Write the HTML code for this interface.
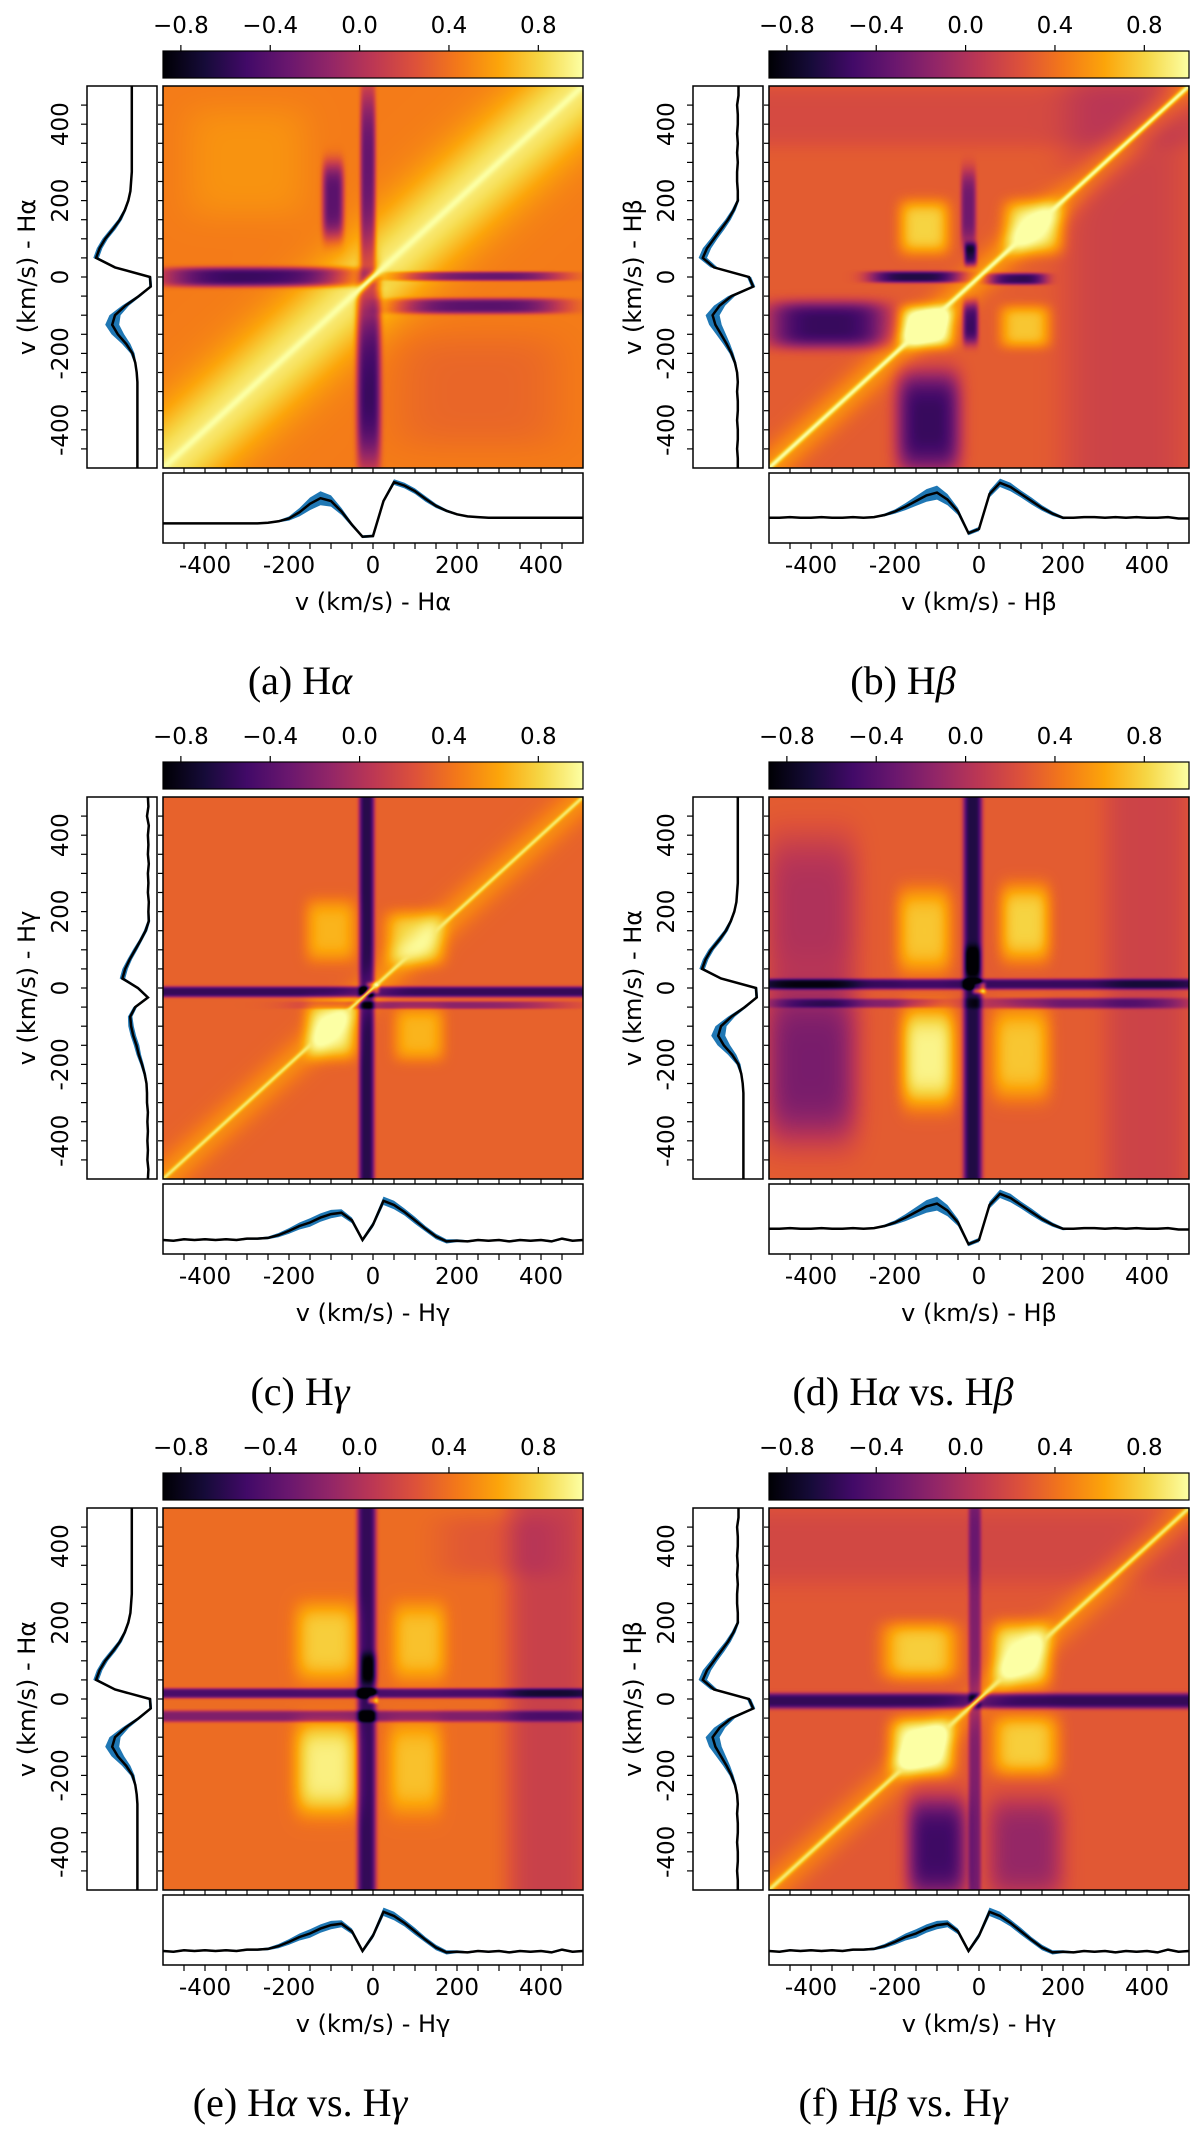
<!DOCTYPE html>
<html><head><meta charset="utf-8"><title>Correlation matrices</title>
<style>
html,body{margin:0;padding:0;background:#fff}
body{width:1200px;height:2134px;position:relative;overflow:hidden}
canvas{position:absolute}
#fig{position:absolute;left:0;top:0}
text{font-family:"DejaVu Sans","Liberation Sans",sans-serif;fill:#000}
.cap{font-family:"Liberation Serif","DejaVu Serif",serif}
</style></head>
<body>
<svg id="fig" width="1200" height="2134">
<defs>
<linearGradient id="inferno" x1="0" x2="1" y1="0" y2="0">
<stop offset="0" stop-color="#000004"/><stop offset="0.1" stop-color="#160b39"/>
<stop offset="0.2" stop-color="#420a68"/><stop offset="0.3" stop-color="#6a176e"/>
<stop offset="0.4" stop-color="#932667"/><stop offset="0.5" stop-color="#bc3754"/>
<stop offset="0.6" stop-color="#dd513a"/><stop offset="0.7" stop-color="#f37819"/>
<stop offset="0.8" stop-color="#fca50a"/><stop offset="0.9" stop-color="#f6d746"/>
<stop offset="1" stop-color="#fcffa4"/>
</linearGradient>
</defs>
</svg>
<script>
// ---------- data ----------
const VEL = [-500,-475,-450,-425,-400,-375,-350,-325,-300,-275,-250,-225,-200,-175,-150,-125,-100,-75,-50,-25,0,25,50,75,100,125,150,175,200,225,250,275,300,325,350,375,400,425,450,475,500];
const HA = [0.28,0.28,0.28,0.28,0.28,0.28,0.28,0.28,0.28,0.28,0.29,0.31,0.35,0.44,0.56,0.64,0.6,0.45,0.26,0.09,0.1,0.6,0.87,0.82,0.74,0.63,0.53,0.46,0.41,0.38,0.37,0.36,0.36,0.36,0.36,0.36,0.36,0.36,0.36,0.36,0.36];
const HA_SD = [0.01,0.01,0.01,0.01,0.01,0.01,0.01,0.01,0.01,0.01,0.01,0.015,0.03,0.06,0.09,0.1,0.08,0.05,0.03,0.02,0.02,0.03,0.04,0.04,0.04,0.04,0.03,0.02,0.015,0.01,0.01,0.01,0.01,0.01,0.01,0.01,0.01,0.01,0.01,0.01,0.01];
const HB = [0.36,0.36,0.37,0.36,0.36,0.37,0.36,0.36,0.37,0.36,0.37,0.4,0.45,0.52,0.6,0.68,0.72,0.62,0.45,0.14,0.2,0.7,0.86,0.8,0.7,0.6,0.5,0.42,0.36,0.36,0.37,0.37,0.36,0.37,0.36,0.37,0.36,0.36,0.37,0.35,0.35];
const HB_SD = [0.01,0.01,0.01,0.01,0.01,0.01,0.01,0.01,0.01,0.01,0.01,0.02,0.03,0.05,0.07,0.09,0.1,0.08,0.05,0.03,0.03,0.05,0.06,0.06,0.05,0.05,0.04,0.03,0.02,0.01,0.01,0.01,0.01,0.01,0.01,0.01,0.01,0.01,0.01,0.01,0.01];
const HG = [0.2,0.19,0.21,0.2,0.21,0.2,0.21,0.2,0.22,0.22,0.23,0.27,0.33,0.4,0.45,0.52,0.57,0.59,0.48,0.2,0.42,0.76,0.7,0.6,0.48,0.36,0.25,0.18,0.19,0.18,0.2,0.19,0.2,0.18,0.2,0.19,0.2,0.18,0.22,0.19,0.2];
const HG_SD = [0.015,0.015,0.015,0.015,0.015,0.015,0.015,0.015,0.015,0.015,0.02,0.03,0.04,0.05,0.06,0.06,0.06,0.05,0.04,0.03,0.04,0.06,0.06,0.05,0.05,0.04,0.04,0.03,0.02,0.015,0.015,0.015,0.015,0.015,0.015,0.015,0.015,0.015,0.015,0.015,0.015];

const CB_TICKS = [-0.8,-0.4,0.0,0.4,0.8];
const CB_LABELS = ["\u22120.8","\u22120.4","0.0","0.4","0.8"];
const V_TICKS = [-400,-200,0,200,400];
const V_LABELS = ["-400","-200","0","200","400"];
const V_MINOR = [-450,-400,-350,-300,-250,-200,-150,-100,-50,0,50,100,150,200,250,300,350,400,450];

// heatmap model per panel: base, broad diagonal, sharp diagonal core, flat-top blocks [cx,cy,halfW,halfH,amp]
const heatBase = [0.45,0.3,0.33,0.3,0.38,0.28];
const diagAmp  = [0.45,0.25,0.2,0,0,0.2];
const diagW    = [150,60,60,60,60,60];
const coreAmp  = [1.0,1.0,0.9,0,0,0.9];
const coreW    = [14,10,8,10,10,10];
const blobsA = [[-270,0,230,25,-1.0],[250,2,200,12,-0.8],[250,-76,200,20,-0.85],[-10,-250,28,250,-1.0],[-12,250,18,250,-0.8],[-95,200,25,100,-0.85],[-300,300,150,150,0.1],[250,-300,200,150,-0.1]];
const blobsB = [[-125,-130,65,55,0.75],[-130,130,60,70,0.5],[110,-130,60,55,0.45],[130,130,70,70,0.55],[-360,-125,140,60,-0.85],[-120,-380,75,130,-0.85],[-150,0,110,15,-0.95],[90,-5,70,15,-0.9],[-20,-120,18,55,-0.85],[-25,180,18,100,-0.6],[-20,60,15,30,-0.95],[350,0,150,5000,-0.15],[0,420,5000,80,-0.1]];
const blobsC = [[-15,0,18,5000,-0.95],[0,-10,5000,14,-0.9],[150,-45,300,10,-0.5],[-100,-110,60,75,0.55],[100,130,70,70,0.45],[-100,150,60,80,0.35],[110,-120,60,70,0.35],[0,0,15,15,0.8]];
const blobsD = [[-15,0,22,5000,-0.95],[-15,70,20,40,-0.4],[0,10,5000,14,-0.85],[250,-40,250,14,-0.6],[-300,-40,200,12,-0.5],[-120,-180,65,130,0.65],[-130,150,65,110,0.45],[110,170,60,100,0.5],[100,-170,70,120,0.45],[-400,-200,110,200,-0.55],[-400,200,110,200,-0.3],[400,0,100,5000,-0.15],[0,0,15,15,1.0]];
const blobsE = [[-15,0,22,5000,-0.95],[-10,80,20,40,-0.4],[0,15,5000,13,-0.85],[0,-45,5000,15,-0.6],[-110,-180,75,120,0.55],[-110,150,75,100,0.4],[100,-180,65,120,0.35],[110,150,65,100,0.35],[420,0,100,5000,-0.25],[300,400,150,80,-0.1],[0,0,12,12,0.8]];
const blobsF = [[0,-5,5000,20,-0.85],[-10,0,15,5000,-0.5],[-140,125,90,75,0.5],[-135,-125,75,75,0.75],[110,-120,80,80,0.5],[100,115,70,85,0.65],[-100,-390,70,130,-0.8],[110,-390,90,130,-0.4],[0,400,5000,100,-0.1]];

// ---------- layout ----------
const PROFILES = {HA:[HA,HA_SD],HB:[HB,HB_SD],HG:[HG,HG_SD]};
const PANELS = [
 {id:'a',ox:0,T:86,left:'HA',bot:'HA',ls:1,yl:'H\u03b1',xl:'H\u03b1',cap:['(a) H','\u03b1',''],blobs:blobsA,k:0},
 {id:'b',ox:606,T:86,left:'HB',bot:'HB',ls:1,yl:'H\u03b2',xl:'H\u03b2',cap:['(b) H','\u03b2',''],blobs:blobsB,k:1},
 {id:'c',ox:0,T:797,left:'HG',bot:'HG',ls:0.65,yl:'H\u03b3',xl:'H\u03b3',cap:['(c) H','\u03b3',''],blobs:blobsC,k:2},
 {id:'d',ox:606,T:797,left:'HA',bot:'HB',ls:1,yl:'H\u03b1',xl:'H\u03b2',cap:['(d) H','\u03b1',' vs. H','\u03b2'],blobs:blobsD,k:3},
 {id:'e',ox:0,T:1508,left:'HA',bot:'HG',ls:1,yl:'H\u03b1',xl:'H\u03b3',cap:['(e) H','\u03b1',' vs. H','\u03b3'],blobs:blobsE,k:4},
 {id:'f',ox:606,T:1508,left:'HB',bot:'HG',ls:1,yl:'H\u03b2',xl:'H\u03b3',cap:['(f) H','\u03b2',' vs. H','\u03b3'],blobs:blobsF,k:5}
];
const HX=163, HW=420, HH=382, BXL=87, BW=70, CBMIN=-0.88, CBMAX=1.0;
const NS='http://www.w3.org/2000/svg';
const svg=document.getElementById('fig');
function el(tag,attrs,parent){const e=document.createElementNS(NS,tag);for(const k in attrs)e.setAttribute(k,attrs[k]);(parent||svg).appendChild(e);return e;}
const INF=[[0,0,4],[22,11,57],[66,10,104],[106,23,110],[147,38,103],[188,55,84],[221,81,58],[243,120,25],[252,165,10],[246,215,70],[252,255,164]];
function cmap(v){let t=(v-CBMIN)/(CBMAX-CBMIN);t=Math.max(0,Math.min(1,t))*10;const i=Math.min(9,Math.floor(t)),f=t-i;const a=INF[i],b=INF[i+1];return [a[0]+(b[0]-a[0])*f,a[1]+(b[1]-a[1])*f,a[2]+(b[2]-a[2])*f];}
const vx=(v,ox)=>ox+HX+(v+500)/1000*HW;
const vy=(v,T)=>T+(500-v)/1000*HH;

PANELS.forEach(p=>{
 const g=el('g',{});
 
 
 const ox=p.ox,T=p.T,k=p.k;
 const cv=document.createElement('canvas');
 cv.width=HW;cv.height=HH;cv.style.left=(ox+HX)+'px';cv.style.top=T+'px';
 
 
 document.body.insertBefore(cv,svg);
 const ctx=cv.getContext('2d');const img=ctx.createImageData(HW,HH);
 for(let py=0;py<HH;py++){const yv=500-(py+0.5)/HH*1000;
  for(let px=0;px<HW;px++){const xv=-500+(px+0.5)/HW*1000;
   let v=heatBase[k]+diagAmp[k]*Math.exp(-Math.pow((xv-yv)/diagW[k],2));
   for(const b of p.blobs){const dx=(xv-b[0])/b[2],dy=(yv-b[1])/b[3];v+=b[4]*Math.exp(-(dx*dx*dx*dx+dy*dy*dy*dy));}
   if(coreAmp[k]>0){const e=Math.exp(-Math.pow((xv-yv)/coreW[k],2));v=v+Math.max(0,coreAmp[k]-v)*e;}
   const c=cmap(v);const o=(py*HW+px)*4;img.data[o]=c[0];img.data[o+1]=c[1];img.data[o+2]=c[2];img.data[o+3]=255;}}
 ctx.putImageData(img,0,0);
 const hf=el('rect',{x:ox+HX,y:T,width:HW,height:HH,fill:'none',stroke:'#000','stroke-width':1.5},g);
 
 
 const cb=el('rect',{x:ox+HX,y:T-35,width:HW,height:27,fill:'url(#inferno)',stroke:'#000','stroke-width':1.2},g);
 
 
 CB_TICKS.forEach((t,i)=>{const x=ox+HX+(t-CBMIN)/(CBMAX-CBMIN)*HW;
  el('line',{x1:x,x2:x,y1:T-35,y2:T-41,stroke:'#000','stroke-width':1.2},g);
  const tx=el('text',{x:x,y:T-53,'text-anchor':'middle','font-size':23},g);tx.textContent=CB_LABELS[i];
  
  });
 const lb=el('rect',{x:ox+BXL,y:T,width:BW,height:HH,fill:'#fff',stroke:'#000','stroke-width':1.5},g);
 
 
 const [lp,lsd]=PROFILES[p.left];const R=ox+BXL+BW;
 let up='',lo='',ln='';
 VEL.forEach((v,i)=>{const y=vy(v,T);up+=(i?'L':'M')+(R-(lp[i]+lsd[i])*BW*p.ls).toFixed(1)+','+y.toFixed(1);ln+=(i?'L':'M')+(R-lp[i]*BW*p.ls).toFixed(1)+','+y.toFixed(1);});
 for(let i=VEL.length-1;i>=0;i--){lo+='L'+(R-(lp[i]-lsd[i])*BW*p.ls).toFixed(1)+','+vy(VEL[i],T).toFixed(1);}
 const lband=el('path',{d:up+lo+'Z',fill:'#1f77b4'},g);
 
 
 const lline=el('path',{d:ln,fill:'none',stroke:'#000','stroke-width':2.5},g);
 
 
 const BY=T+387,BH=70;
 const bb=el('rect',{x:ox+HX,y:BY,width:HW,height:BH,fill:'#fff',stroke:'#000','stroke-width':1.5},g);
 
 
 const [bp,bsd]=PROFILES[p.bot];const BB=BY+BH;
 up='';lo='';ln='';
 VEL.forEach((v,i)=>{const x=vx(v,ox);up+=(i?'L':'M')+x.toFixed(1)+','+(BB-(bp[i]+bsd[i])*BH).toFixed(1);ln+=(i?'L':'M')+x.toFixed(1)+','+(BB-bp[i]*BH).toFixed(1);});
 for(let i=VEL.length-1;i>=0;i--){lo+='L'+vx(VEL[i],ox).toFixed(1)+','+(BB-(bp[i]-bsd[i])*BH).toFixed(1);}
 const bband=el('path',{d:up+lo+'Z',fill:'#1f77b4'},g);
 
 
 const bline=el('path',{d:ln,fill:'none',stroke:'#000','stroke-width':2.5},g);
 
 
 V_MINOR.forEach(v=>{const y=vy(v,T),x=vx(v,ox);
  el('line',{x1:ox+BXL,x2:ox+BXL-6,y1:y,y2:y,stroke:'#000','stroke-width':1.2},g);
  el('line',{x1:ox+HX,x2:ox+HX-5,y1:y,y2:y,stroke:'#000','stroke-width':1.2},g);
  el('line',{x1:x,x2:x,y1:T+HH,y2:T+HH+5,stroke:'#000','stroke-width':1.2},g);
  el('line',{x1:x,x2:x,y1:BB,y2:BB+6,stroke:'#000','stroke-width':1.2},g);});
 V_TICKS.forEach((v,i)=>{const y=vy(v,T),x=vx(v,ox);
  const ty=el('text',{x:0,y:0,'text-anchor':'middle','dominant-baseline':'central','font-size':23,transform:'translate('+(ox+BXL-26)+','+y+') rotate(-90)'},g);ty.textContent=V_LABELS[i];
  
  
  const tx=el('text',{x:x,y:BB+23,'text-anchor':'middle','dominant-baseline':'central','font-size':23},g);tx.textContent=V_LABELS[i];
  
  });
 const xl=el('text',{x:ox+HX+HW/2,y:T+516,'text-anchor':'middle','dominant-baseline':'central','font-size':24},g);xl.textContent='v (km/s) - '+p.xl;
 
 
 const yl=el('text',{x:0,y:0,'text-anchor':'middle','dominant-baseline':'central','font-size':24,transform:'translate('+(ox+27)+','+(T+HH/2)+') rotate(-90)'},g);yl.textContent='v (km/s) - '+p.yl;
 
 
 const cp=el('text',{x:ox+300-(ox?3:0),y:T+594,'text-anchor':'middle','dominant-baseline':'central','font-size':40,'class':'cap'},g);
 
 
 p.cap.forEach((s,i)=>{if(!s)return;const ts=el('tspan',{},cp);if(i%2===1)ts.setAttribute('font-style','italic');ts.textContent=s;});
});
</script>
</body></html>
